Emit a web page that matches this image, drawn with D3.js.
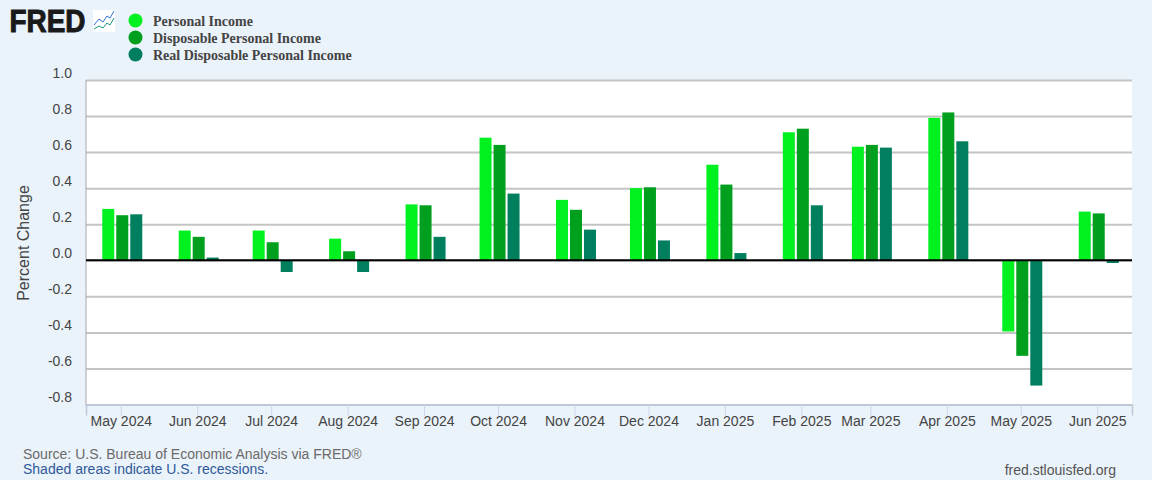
<!DOCTYPE html>
<html><head><meta charset="utf-8">
<script src="https://cdn.jsdelivr.net/npm/d3@7"></script>
<style>html,body{margin:0;padding:0;background:#eaf2fa}svg{display:block}text{font-family:"Liberation Sans",Arial,sans-serif}</style>
</head><body><svg id="c" width="1152" height="480"></svg>
<script>
const months=["2024-05-01","2024-06-01","2024-07-01","2024-08-01","2024-09-01","2024-10-01","2024-11-01","2024-12-01","2025-01-01","2025-02-01","2025-03-01","2025-04-01","2025-05-01","2025-06-01"];
const seriesNames=["Personal Income","Disposable Personal Income","Real Disposable Personal Income"];
const personalIncome=[0.285,0.165,0.165,0.12,0.31,0.68,0.335,0.40,0.53,0.71,0.63,0.79,-0.395,0.27];
const disposableIncome=[0.25,0.13,0.10,0.05,0.305,0.64,0.28,0.405,0.42,0.73,0.64,0.82,-0.53,0.26];
const realDisposableIncome=[0.255,0.015,-0.065,-0.065,0.13,0.37,0.17,0.11,0.04,0.305,0.625,0.66,-0.695,-0.015];
const colors=["#00f020","#00a01e","#007f5f"];
const yTicks=[1.0,0.8,0.6,0.4,0.2,0.0,-0.2,-0.4,-0.6,-0.8];

const svg=d3.select("#c");
const L=86,R=1132,T=80,B=404.5;
const dates=months.map(d=>new Date(d+"T00:00:00Z"));
const pad=14.1*864e5;
const x=d3.scaleUtc().domain([new Date(+dates[0]-pad),new Date(+dates[dates.length-1]+pad)]).range([L,R]);
const y=d3.scaleLinear().domain([-0.8,1.0]).range([B,T]);
const sub=d3.scaleBand().domain(seriesNames).range([-18.5,21.5]).paddingInner(1/7);

svg.append("rect").attr("x",L).attr("y",T).attr("width",R-L).attr("height",B-T).attr("fill","#fff");

// gridlines + y labels
const ya=d3.axisLeft(y).tickValues(yTicks).tickSize(-(R-L)).tickPadding(14).tickFormat(d=>d.toFixed(1));
const yg=svg.append("g").attr("transform",`translate(${L},0)`).call(ya);
yg.select(".domain").remove();
yg.selectAll("line").attr("stroke","#c4c4c4").attr("stroke-width",2);
yg.selectAll("text").attr("font-size",14).attr("fill","#444").attr("x",-14).attr("y",-7);
svg.append("line").attr("x1",L).attr("x2",L).attr("y1",T).attr("y2",B+1).attr("stroke","#a8a8a8").attr("stroke-width",1);

// x axis
const xa=d3.axisBottom(x).tickValues(dates).tickSize(11).tickPadding(-1).tickFormat(d3.utcFormat("%b %Y"));
const xg=svg.append("g").attr("transform",`translate(0,${B})`).call(xa);
xg.select(".domain").attr("stroke","#c0c8dc").attr("stroke-width",1.5);
xg.selectAll("line").attr("stroke","#c8d6ee");
xg.selectAll("text").attr("font-size",14).attr("fill","#444").attr("dy","0.85em");

// bars
[personalIncome,disposableIncome,realDisposableIncome].forEach((vals,i)=>{
  svg.append("g").selectAll("rect").data(vals).join("rect")
    .attr("x",(d,k)=>x(dates[k])+sub(seriesNames[i]))
    .attr("width",sub.bandwidth())
    .attr("y",d=>Math.min(y(d),y(0)))
    .attr("height",d=>Math.abs(y(d)-y(0)))
    .attr("fill",colors[i]);
});
svg.append("line").attr("x1",L).attr("x2",R).attr("y1",y(0)).attr("y2",y(0)).attr("stroke","#000").attr("stroke-width",2);

// axis title
svg.append("text").attr("transform",`translate(29,243) rotate(-90)`).attr("text-anchor","middle").attr("font-size",16).attr("fill","#444").text("Percent Change");

// legend
seriesNames.forEach((n,i)=>{
  const cy=20.5+i*17;
  svg.append("circle").attr("cx",135.5).attr("cy",cy).attr("r",7).attr("fill",colors[i]);
  svg.append("text").attr("x",153).attr("y",cy+5).attr("font-size",14).attr("font-weight","bold").attr("fill","#444")
    .style("font-family","'Liberation Serif',serif").text(n);
});

// logo
svg.append("text").attr("x",9.5).attr("y",32).attr("font-size",31).attr("font-weight","bold").attr("fill","#1a1a1a").attr("stroke","#1a1a1a").attr("stroke-width",1).attr("textLength",76).attr("lengthAdjust","spacingAndGlyphs").text("FRED");
const lg=svg.append("g").attr("transform","translate(93,10)");
lg.append("rect").attr("width",22).attr("height",22).attr("fill","#fff");
lg.append("path").attr("d","M1 15 L6 9 L10 12 L14 6 L17 8 L21 1").attr("fill","none").attr("stroke","#2a6fd6").attr("stroke-width",1);
lg.append("path").attr("d","M1 19 L6 16 L10 18 L14 13 L17 15 L21 8").attr("fill","none").attr("stroke","#1f9a80").attr("stroke-width",1);

// footer
svg.append("text").attr("x",23).attr("y",459).attr("font-size",14).attr("fill","#6a6a6a").text("Source: U.S. Bureau of Economic Analysis via FRED®");
svg.append("text").attr("x",23).attr("y",474).attr("font-size",14).attr("fill","#2f5a9a").text("Shaded areas indicate U.S. recessions.");
svg.append("text").attr("x",1116).attr("y",475).attr("text-anchor","end").attr("font-size",14).attr("fill","#555").text("fred.stlouisfed.org");
</script></body></html>
